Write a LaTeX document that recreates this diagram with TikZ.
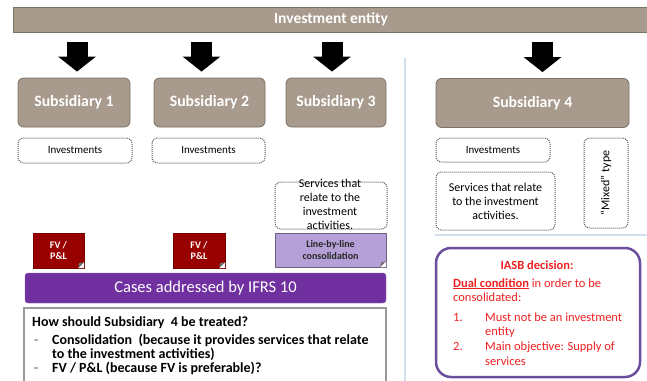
\documentclass[tikz,border=0pt]{standalone}
\usepackage{fontspec}
\setmainfont{Carlito}
\usepackage{tikz}
\usetikzlibrary{arrows.meta,positioning,calc}
\definecolor{taupe}{RGB}{168,154,140}
\definecolor{taupeline}{RGB}{122,112,102}
\definecolor{fvred}{RGB}{152,0,0}
\definecolor{lilac}{RGB}{181,160,215}
\definecolor{ifrspurple}{RGB}{112,48,160}
\definecolor{iasbline}{RGB}{108,78,158}
\definecolor{sepblue}{RGB}{208,224,238}
\definecolor{iasbred}{RGB}{238,32,32}
\tikzstyle{entity} = [draw=taupeline,fill=taupe,rectangle,inner sep=0,text=white,font=\fontsize{15.5}{18}\selectfont\bfseries]
\tikzstyle{subsid} = [draw=taupeline,fill=taupe,thick,rectangle,rounded corners=.2cm,inner sep=0,minimum height=49pt,text=white,font=\fontsize{15.8}{18}\selectfont\bfseries]
\tikzstyle{dotbox} = [draw=black!65,line width=1pt,dash pattern=on 1pt off 1pt,rounded corners=.2cm,rectangle,inner sep=0,fill=white,font=\fontsize{11}{13}\selectfont]
\tikzstyle{treat} = [rectangle,inner sep=0,minimum height=35pt,font=\fontsize{10}{11.5}\selectfont\bfseries,align=center]
\tikzstyle{blockarrow} = [-{Triangle[width=37pt,length=15pt]},line width=21pt,shorten <=\drop,shorten >=6pt]
\tikzstyle{qline} = [anchor=base west,inner sep=0,font=\fontsize{14}{16}\selectfont\bfseries]
\tikzstyle{iline} = [anchor=base west,inner sep=0,text=iasbred,font=\fontsize{12.5}{15}\selectfont]
\def \drop {10pt}

\begin{document}
\begin{tikzpicture}[x=1pt,y=-1pt]
      \useasboundingbox (0,0) rectangle (647,380);
      % separators
      \coordinate (sepTop) at (405,58);
      \coordinate (sepBot) at (405,385);
      \coordinate (hsepL) at (435,235);
      \coordinate (hsepR) at (650,235);
      \draw[sepblue,line width=2pt] (sepTop) -- (sepBot);
      \draw[sepblue,line width=2pt] (hsepL) -- (hsepR);

      \node[entity,minimum width=636pt,minimum height=25pt] (ie) at (331,19.5) {Investment entity};

      \node[subsid,minimum width=112pt] (s1) at (74,102.5) {Subsidiary 1};
      \node[subsid,minimum width=111pt] (s2) at (209.5,102.5) {Subsidiary 2};
      \node[subsid,minimum width=100pt] (s3) at (336,102.5) {Subsidiary 3};
      \node[subsid,minimum width=193pt] (s4) at (532.5,103) {Subsidiary 4};

      \coordinate (a1) at ([xshift=3pt]s1.north);
      \coordinate (a2) at ([xshift=-8pt]s2.north);
      \coordinate (a3) at ([xshift=-4pt]s3.north);
      \coordinate (a4) at ([xshift=10pt]s4.north);
      \foreach \a in {a1,a2,a3,a4}
        \draw[blockarrow] (\a |- ie.south) -- (\a);

      \node[dotbox,minimum width=114pt,minimum height=25pt] (inv1) at (75,150.5) {Investments};
      \node[dotbox,minimum width=113pt,minimum height=25pt] (inv2) at (208.5,150.5) {Investments};
      \node[dotbox,minimum width=112pt,minimum height=47pt] (srv3) at (331,205.5) {};
      \node[font=\fontsize{12}{14}\selectfont,align=center,inner sep=0] (srv3txt) at (330,204) {Services that\\relate to the\\investment\\activities.};

      \node[dotbox,minimum width=114pt,minimum height=24pt] (inv4) at (493,150) {Investments};
      \node[dotbox,minimum width=119pt,minimum height=58pt,align=center,font=\fontsize{12}{14}\selectfont] (srv4) at (495.5,201) {Services that relate\\to the investment\\activities.};
      \node[dotbox,minimum width=44pt,minimum height=90pt] (mix) at (606,183) {};
      \node[rotate=90,inner sep=0,font=\fontsize{12}{14}\selectfont] (mixtxt) at (mix.center) {“Mixed” type};

      \node[treat,fill=fvred,draw=fvred!80!black,text=white,minimum width=51pt] (fv1) at (58.5,250.5) {FV /\\P\&L};
      \node[treat,fill=fvred,draw=fvred!80!black,text=white,minimum width=52pt] (fv2) at (199,250.5) {FV /\\P\&L};
      \node[treat,fill=lilac,draw=lilac!60!black,text=black!85,minimum width=111pt,minimum height=34pt] (lbl) at (330.5,250) {Line-by-line\\consolidation};
      \foreach \b in {fv1,fv2,lbl} {
        \fill[white] (\b.south east) -- ++(-6,0) -- ++(6,-6) -- cycle;
        \fill[black!55] (\b.south east) ++(-6,0) -- ++(6,-6) -- ++(-5,1) -- cycle;
      }

      \node[rectangle,fill=ifrspurple,draw=ifrspurple!75!white,rounded corners=.1cm,minimum width=361pt,minimum height=30pt,inner sep=0,text=white,font=\fontsize{16.5}{19}\selectfont] (cases) at (205.5,288) {Cases addressed by IFRS 10};

      \node[draw=black!40,line width=1.5pt,fill=white,minimum width=362pt,minimum height=84pt,inner sep=0] (quest) at (205,350) {};
      \node[qline] (q1) at (32,326.5) {How should Subsidiary\ \ 4 be treated?};
      \node[qline,text=black!45] (d1) at (34,344.5) {-};
      \node[qline] (q2) at (52,344.5) {Consolidation\ \ (because it provides services that relate};
      \node[qline] (q3) at (52,358) {to the investment activities)};
      \node[qline,text=black!45] (d2) at (34,372) {-};
      \node[qline] (q4) at (52,372) {FV / P\&L (because FV is preferable)?};

      \node[draw=iasbline,line width=2.5pt,rounded corners=15pt,fill=white,minimum width=204pt,minimum height=129pt,inner sep=0] (iasb) at (538,312.5) {};
      \node[iline,anchor=base,font=\fontsize{12.5}{15}\selectfont\bfseries] (t0) at (537,269) {IASB decision:};
      \node[iline] (t1) at (453,287) {\underline{\textbf{Dual condition}} in order to be};
      \node[iline] (t2) at (453,301) {consolidated:};
      \node[iline] (n1) at (453,321) {1.};
      \node[iline] (m1) at (485,321) {Must not be an investment};
      \node[iline] (m1b) at (485,335) {entity};
      \node[iline] (n2) at (453,350) {2.};
      \node[iline] (m2) at (485,350) {Main objective: Supply of};
      \node[iline] (m2b) at (485,365) {services};
\end{tikzpicture}
\end{document}
